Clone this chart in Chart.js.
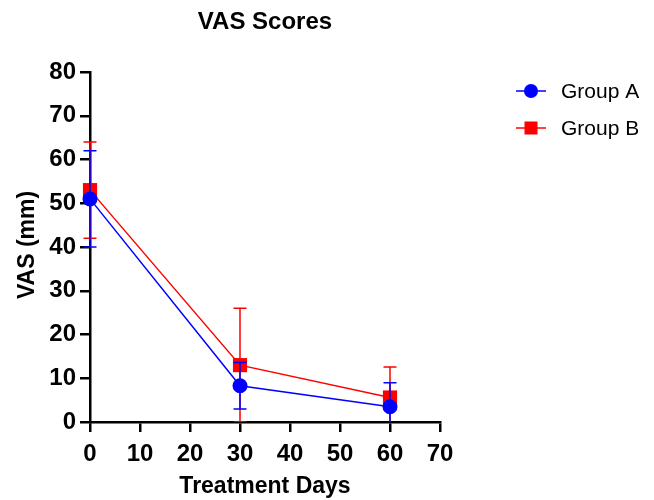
<!DOCTYPE html>
<html>
<head>
<meta charset="utf-8">
<script src="https://cdn.jsdelivr.net/npm/chart.js@4.4.0/dist/chart.umd.min.js"></script>
<style>
html,body{margin:0;padding:0;background:#fff;}
#wrap{width:654px;height:500px;position:relative;}
</style>
</head>
<body>
<div id="wrap"><canvas id="c" width="654" height="500"></canvas></div>
<script>
const days = [0, 30, 60];
const groupAMean = [51.0, 8.3, 3.5];
const groupASD = [11.0, 5.3, 5.5];
const groupBMean = [53.0, 13.0, 5.6];
const groupBSD = [11.0, 13.0, 7.0];
const seriesNames = ['Group A', 'Group B'];
const xTicks = [0, 10, 20, 30, 40, 50, 60, 70];
const yTicks = [0, 10, 20, 30, 40, 50, 60, 70, 80];

const FONT = '"Liberation Sans", Arial, sans-serif';
const BLUE = '#0000ff';
const RED = '#ff0000';

function pts(means){ return days.map((d,i)=>({x:d, y:means[i]})); }

const errorBars = {
  id: 'errorBars',
  beforeDatasetDraw(chart, args) {
    const ds = chart.data.datasets[args.index];
    if (!ds.sd) return;
    const ctx = chart.ctx, xs = chart.scales.x, ys = chart.scales.y, ca = chart.chartArea;
    ctx.save();
    ctx.beginPath();
    ctx.rect(0, ca.top - 20, chart.width, ca.bottom - ca.top + 20);
    ctx.clip();
    ctx.strokeStyle = ds.borderColor;
    ctx.lineWidth = 1.5;
    ds.data.forEach((p, i) => {
      const x = xs.getPixelForValue(p.x);
      const yHi = ys.getPixelForValue(p.y + ds.sd[i]);
      const yLo = ys.getPixelForValue(p.y - ds.sd[i]);
      ctx.beginPath();
      ctx.moveTo(x, yHi); ctx.lineTo(x, yLo);
      ctx.moveTo(x - 6.5, yHi); ctx.lineTo(x + 6.5, yHi);
      ctx.moveTo(x - 6.5, yLo); ctx.lineTo(x + 6.5, yLo);
      ctx.stroke();
    });
    ctx.restore();
  }
};

const texts = {
  id: 'texts',
  afterDraw(chart) {
    const ctx = chart.ctx, ca = chart.chartArea;
    const cx = (ca.left + ca.right) / 2;
    ctx.save();
    ctx.fillStyle = '#000';
    ctx.textAlign = 'center';
    ctx.textBaseline = 'middle';
    ctx.font = 'bold 24px ' + FONT;
    ctx.fillText('VAS Scores', cx, 22);
    ctx.font = 'bold 23px ' + FONT;
    ctx.fillText('Treatment Days', cx, 487);
    ctx.save();
    ctx.translate(28, 245);
    ctx.rotate(-Math.PI / 2);
    ctx.fillText('VAS (mm)', 0, 0);
    ctx.restore();
    // legend
    const items = [
      {label: seriesNames[0], color: BLUE, style: 'circle', y: 91},
      {label: seriesNames[1], color: RED, style: 'rect', y: 128}
    ];
    ctx.textAlign = 'left';
    ctx.font = '21px ' + FONT;
    items.forEach(it => {
      ctx.strokeStyle = it.color;
      ctx.fillStyle = it.color;
      ctx.lineWidth = 1.5;
      ctx.beginPath();
      ctx.moveTo(516, it.y); ctx.lineTo(546, it.y);
      ctx.stroke();
      ctx.beginPath();
      if (it.style === 'circle') { ctx.arc(531, it.y, 7, 0, Math.PI * 2); ctx.fill(); }
      else { ctx.fillRect(524.5, it.y - 6.5, 13, 13); }
      ctx.fillStyle = '#000';
      ctx.fillText(it.label, 561, it.y + 1);
    });
    ctx.restore();
  }
};

const axisCommon = (min, max, ticks, pad) => ({
  type: 'linear',
  min: min, max: max,
  afterBuildTicks: s => { s.ticks = ticks.map(v => ({value: v})); },
  border: {display: true, color: '#000', width: 2.5},
  grid: {display: true, drawOnChartArea: false, drawTicks: true, tickLength: 10, color: '#000', lineWidth: 2.5},
  ticks: {color: '#000', font: {family: FONT, size: 24, weight: 'bold'}, padding: pad}
});

const xAxis = axisCommon(0, 70, xTicks, 8);
xAxis.afterFit = s => { s.height = 78; };
const yAxis = axisCommon(0, 80, yTicks, 4);
yAxis.afterFit = s => { s.width = 90; };

new Chart(document.getElementById('c'), {
  type: 'scatter',
  data: {
    datasets: [
      {label: seriesNames[0], data: pts(groupAMean), sd: groupASD, showLine: true,
       borderColor: BLUE, backgroundColor: BLUE, borderWidth: 1.5,
       pointStyle: 'circle', pointRadius: 7.5, pointHoverRadius: 7.5, pointBorderWidth: 0, clip: false},
      {label: seriesNames[1], data: pts(groupBMean), sd: groupBSD, showLine: true,
       borderColor: RED, backgroundColor: RED, borderWidth: 1.5,
       pointStyle: 'rect', pointRadius: 10, pointHoverRadius: 10, pointBorderWidth: 0, clip: false}
    ]
  },
  options: {
    responsive: false,
    animation: false,
    events: [],
    layout: {padding: {top: 72, right: 214, left: 0, bottom: 0}},
    plugins: {legend: {display: false}, title: {display: false}, tooltip: {enabled: false}},
    scales: {x: xAxis, y: yAxis}
  },
  plugins: [errorBars, texts]
});
</script>
</body>
</html>
